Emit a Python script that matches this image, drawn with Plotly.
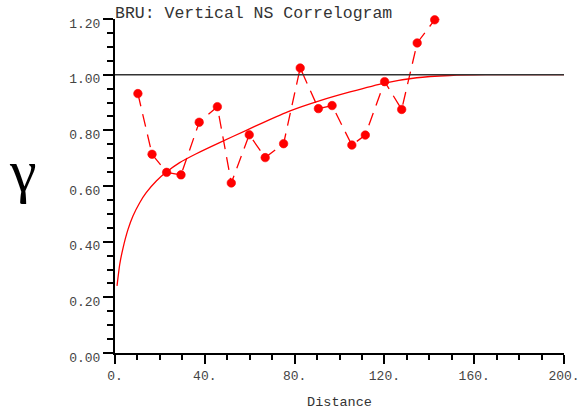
import plotly.graph_objects as go

# Experimental correlogram points (distance, gamma)
lag_distance = [10.2, 16.5, 23.0, 29.4, 37.5, 45.6, 51.8, 59.8, 66.9, 75.1,
                82.5, 90.6, 96.7, 105.5, 111.5, 120.1, 127.7, 134.6, 142.4, 150.1]
lag_gamma = [0.932, 0.714, 0.649, 0.640, 0.829, 0.885, 0.611, 0.784, 0.702, 0.752,
             1.024, 0.878, 0.889, 0.747, 0.783, 0.975, 0.875, 1.114, 1.197, 1.207]

# Fitted model curve
model_distance = [0.9, 2.1, 3.6, 5.8, 8.0, 11.0, 13.9, 18.4, 22.9, 28.8, 36.2,
                  46.6, 58.5, 66.0, 78.0, 91.0, 104.7, 120.1, 134.4, 149.2, 165.0, 200.0]
model_gamma = [0.241, 0.318, 0.378, 0.444, 0.492, 0.540, 0.576, 0.618, 0.650, 0.684, 0.716,
               0.756, 0.800, 0.828, 0.870, 0.906, 0.938, 0.970, 0.989, 0.997, 1.000, 1.000]

sill = 1.0
x_tick_values = [0, 40, 80, 120, 160, 200]
x_tick_labels = ["0.", "40.", "80.", "120.", "160.", "200."]
y_tick_values = [0.0, 0.2, 0.4, 0.6, 0.8, 1.0, 1.2]
y_tick_labels = ["0.00", "0.20", "0.40", "0.60", "0.80", "1.00", "1.20"]

X_MAX = 200
Y_MAX = 1.2
MONO = "Liberation Mono, Courier New, monospace"

marker_sizes = [8.5 if g <= Y_MAX else 0 for g in lag_gamma]

fig = go.Figure()

fig.add_trace(go.Scatter(
    x=model_distance, y=model_gamma, mode="lines",
    line=dict(color="#ff0000", width=1.3, shape="spline", smoothing=0.6),
    hoverinfo="skip", showlegend=False))

fig.add_trace(go.Scatter(
    x=lag_distance, y=lag_gamma, mode="lines+markers", cliponaxis=False,
    line=dict(color="#ff0000", width=1.3, dash="13px,8px"),
    marker=dict(color="#ff0000", size=marker_sizes, opacity=1,
                line=dict(width=0.6, color="#ff0000")),
    showlegend=False))

fig.add_shape(type="line", xref="x", yref="y", x0=0, x1=X_MAX, y0=sill, y1=sill,
              line=dict(color="#333333", width=1.5), layer="above")

fig.add_annotation(text="γ", xref="paper", yref="paper", x=-0.205, y=0.545,
                   showarrow=False, xanchor="center", yanchor="middle",
                   font=dict(family="Liberation Serif, serif", size=60, color="black"))

fig.update_layout(
    width=583, height=410,
    margin=dict(l=115, r=19, t=19, b=57, autoexpand=False),
    paper_bgcolor="white", plot_bgcolor="white",
    title=dict(text="BRU: Vertical NS Correlogram", x=115 / 583, xanchor="left",
               xref="container", yref="container", y=1 - 12.5 / 410, yanchor="middle",
               automargin=False,
               font=dict(family=MONO, size=16.5, color="#333333")),
)

fig.update_xaxes(
    range=[0, X_MAX], showgrid=False, zeroline=False, automargin=False,
    showline=True, linecolor="black", linewidth=2,
    tickmode="array", tickvals=x_tick_values, ticktext=x_tick_labels,
    ticks="outside", ticklen=9, tickwidth=1.5, tickcolor="black",
    minor=dict(dtick=10, ticks="outside", ticklen=5, tickwidth=1.5, tickcolor="black"),
    tickfont=dict(family=MONO, size=13, color="#444444"),
    title=dict(text="Distance", font=dict(family=MONO, size=13.5, color="#333333"), standoff=14),
)

fig.update_yaxes(
    range=[0, Y_MAX], showgrid=False, zeroline=False, automargin=False,
    showline=True, linecolor="black", linewidth=2,
    tickmode="array", tickvals=y_tick_values, ticktext=y_tick_labels,
    ticks="outside", ticklen=10, tickwidth=1.5, tickcolor="black",
    minor=dict(dtick=0.05, ticks="outside", ticklen=6, tickwidth=1.5, tickcolor="black"),
    tickfont=dict(family=MONO, size=13, color="#444444"),
    ticklabelshift=4,
)

fig.write_html(
    "out.html",
    config={"displayModeBar": False},
    post_script="document.body.style.margin='0px';document.body.style.padding='0px';"
                "document.body.style.overflow='hidden';",
)
